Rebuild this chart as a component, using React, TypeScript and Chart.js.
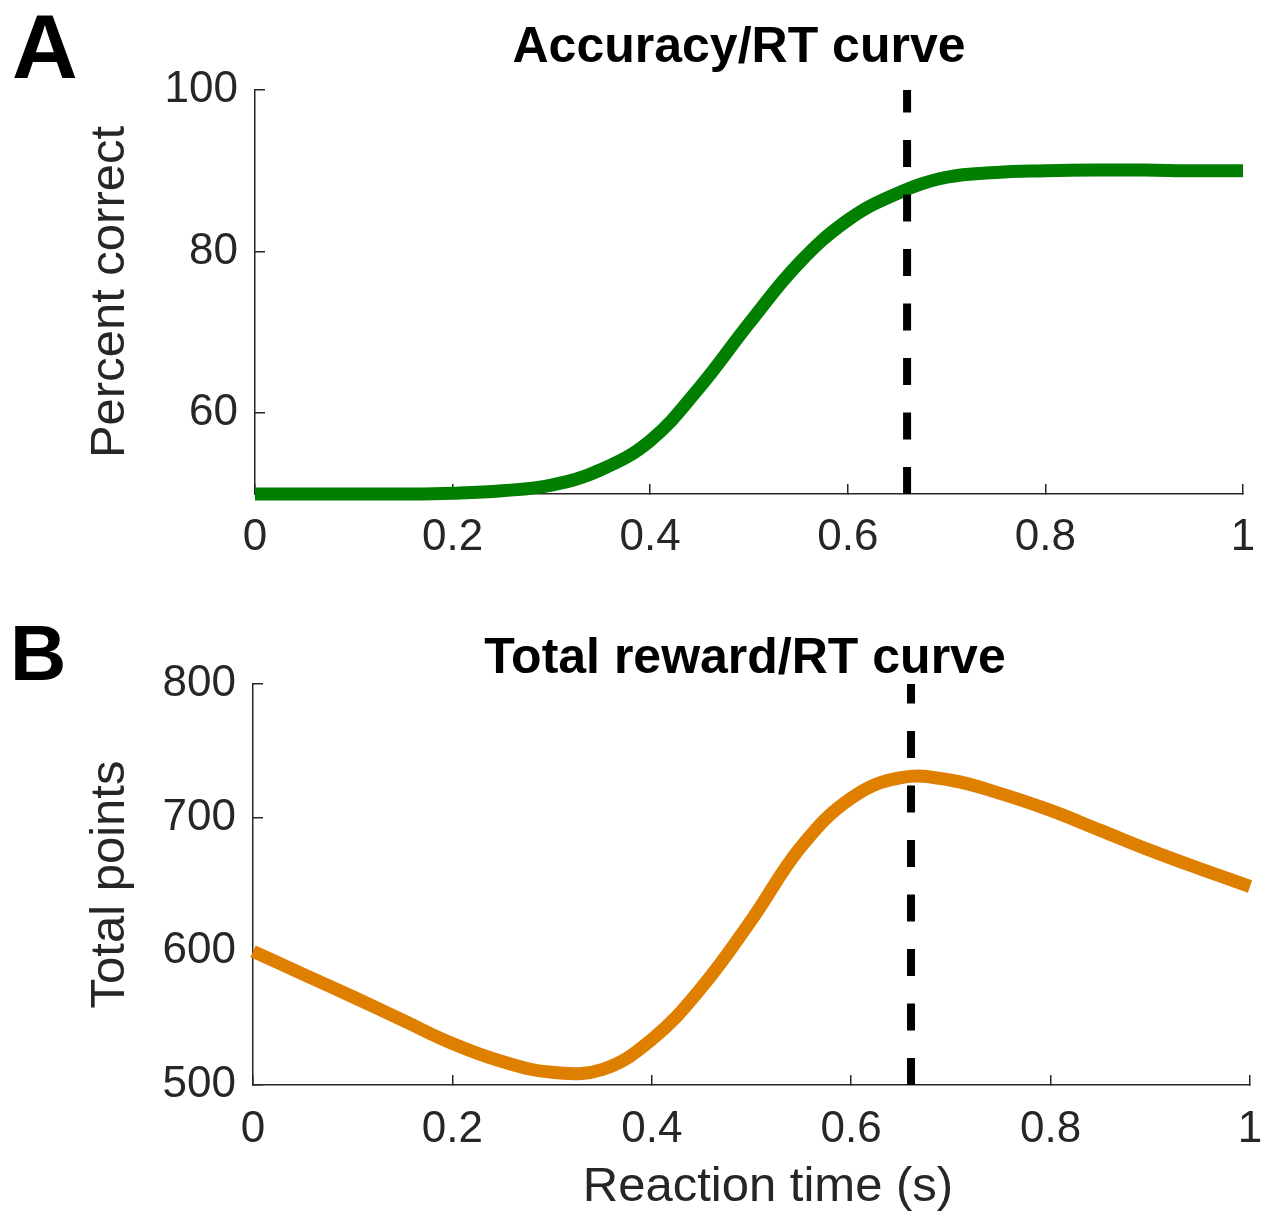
import React, { useEffect, useRef } from "react";
import { Chart, registerables } from "chart.js";

Chart.register(...registerables);

const FONT = "'Liberation Sans', Arial, Helvetica, sans-serif";
const AXIS_COLOR = "#262626";

// ---- Data ----
const RT_A = [0, 0.05, 0.1, 0.15, 0.2, 0.25, 0.3, 0.35, 0.4, 0.45, 0.5, 0.55, 0.6, 0.65, 0.7, 0.75, 0.8, 0.85, 0.9, 0.95, 1];
const PERCENT_CORRECT = [50, 50, 50, 50, 50.1, 50.4, 51.1, 53.0, 56.6, 63.2, 71.1, 78.5, 83.9, 87.2, 89.2, 89.8, 90.0, 90.1, 90.1, 90.0, 90.0];

const RT_B = [0, 0.05, 0.1, 0.15, 0.2, 0.25, 0.3, 0.35, 0.4, 0.45, 0.5, 0.55, 0.6, 0.65, 0.7, 0.75, 0.8, 0.85, 0.9, 0.95, 1];
const TOTAL_POINTS = [600, 583, 566, 548.5, 531, 517.5, 509.5, 511.5, 534, 573, 623.5, 678.5, 714.6, 730, 728, 718, 705.4, 690.5, 675.5, 661.7, 648.5];

const OPTIMAL_RT = 0.66;

const X_TICKS = [0, 0.2, 0.4, 0.6, 0.8, 1];
const X_TICK_LABELS = ["0", "0.2", "0.4", "0.6", "0.8", "1"];
const Y_RANGE_A = [50, 100];
const Y_TICKS_A = [60, 80, 100];
const Y_RANGE_B = [500, 800];
const Y_TICKS_B = [500, 600, 700, 800];

const TITLE_A = "Accuracy/RT curve";
const TITLE_B = "Total reward/RT curve";
const Y_LABEL_A = "Percent correct";
const Y_LABEL_B = "Total points";
const X_LABEL_B = "Reaction time (s)";

const decorPlugin = {
  id: "decor",
  afterDraw(chart: any, _args: any, opts: any) {
    const ctx = chart.ctx;
    ctx.save();
    ctx.fillStyle = "#000";
    ctx.textBaseline = "alphabetic";
    ctx.textAlign = "left";
    ctx.font = `bold ${opts.letterSize}px ${FONT}`;
    ctx.fillText(opts.letter, opts.letterX, opts.letterY);
    ctx.textAlign = "center";
    ctx.font = `bold 50px ${FONT}`;
    ctx.fillText(opts.title, opts.titleX, opts.titleY);
    if (opts.xTitle) {
      ctx.fillStyle = AXIS_COLOR;
      ctx.font = `49px ${FONT}`;
      ctx.fillText(opts.xTitle, opts.xTitleX, opts.xTitleY);
    }
    ctx.restore();
  },
};

function xScale(labelPadding: number, height: number) {
  return {
    type: "linear",
    min: 0,
    max: 1,
    afterBuildTicks: (s: any) => {
      s.ticks = X_TICKS.map((v) => ({ value: v }));
    },
    afterFit: (s: any) => {
      s.height = height;
      s.paddingLeft = 0;
      s.paddingRight = 0;
    },
    ticks: {
      callback: (v: number) => {
        const i = X_TICKS.indexOf(v);
        return i >= 0 ? X_TICK_LABELS[i] : "";
      },
      font: { family: FONT, size: 44 },
      color: AXIS_COLOR,
      padding: labelPadding,
      maxRotation: 0,
      autoSkip: false,
    },
    grid: { drawOnChartArea: false, drawTicks: true, tickLength: -10, color: AXIS_COLOR, lineWidth: 1.5 },
    border: { display: true, color: AXIS_COLOR, width: 1.5 },
  };
}

function yScale(range: number[], ticks: number[], width: number, label: string) {
  return {
    type: "linear",
    min: range[0],
    max: range[1],
    afterBuildTicks: (s: any) => {
      s.ticks = ticks.map((v) => ({ value: v }));
    },
    afterFit: (s: any) => {
      s.width = width;
      s.paddingTop = 0;
      s.paddingBottom = 0;
    },
    ticks: {
      callback: (v: number) => String(v),
      font: { family: FONT, size: 44 },
      color: AXIS_COLOR,
      padding: 27,
    },
    grid: { drawOnChartArea: false, drawTicks: true, tickLength: -10, color: AXIS_COLOR, lineWidth: 1.5 },
    border: { display: true, color: AXIS_COLOR, width: 1.5 },
    title: {
      display: true,
      text: label,
      color: AXIS_COLOR,
      font: { family: FONT, size: 49, weight: "normal" },
      padding: { top: 81, bottom: 0 },
    },
  };
}

function curveDataset(xs: number[], ys: number[], color: string) {
  return {
    data: xs.map((x, i) => ({ x, y: ys[i] })),
    borderColor: color,
    borderWidth: 13,
    pointRadius: 0,
    fill: false,
    tension: 0.4,
    borderCapStyle: "butt",
    borderJoinStyle: "round",
    clip: false,
  };
}

function dashDataset(range: number[]) {
  return {
    data: [
      { x: OPTIMAL_RT, y: range[0] },
      { x: OPTIMAL_RT, y: range[1] },
    ],
    borderColor: "#000",
    borderWidth: 8,
    borderDash: [27, 27.5],
    pointRadius: 0,
    fill: false,
    borderCapStyle: "butt",
    clip: false,
  };
}

export default function App() {
  const refA = useRef<HTMLCanvasElement | null>(null);
  const refB = useRef<HTMLCanvasElement | null>(null);

  useEffect(() => {
    const chartA = new Chart(refA.current as HTMLCanvasElement, {
      type: "line",
      data: {
        datasets: [dashDataset(Y_RANGE_A), curveDataset(RT_A, PERCENT_CORRECT, "#007F00")] as any,
      },
      options: {
        responsive: false,
        animation: false,
        layout: { padding: { top: 90, right: 25, bottom: 0, left: 0 } },
        plugins: {
          legend: { display: false },
          tooltip: { enabled: false },
          decor: {
            letter: "A",
            letterSize: 91,
            letterX: 12,
            letterY: 78,
            title: TITLE_A,
            titleX: 739,
            titleY: 62,
          },
        } as any,
        scales: {
          x: xScale(27, 106),
          y: yScale(Y_RANGE_A, Y_TICKS_A, 255, Y_LABEL_A),
        } as any,
      },
      plugins: [decorPlugin],
    });

    const chartB = new Chart(refB.current as HTMLCanvasElement, {
      type: "line",
      data: {
        datasets: [dashDataset(Y_RANGE_B), curveDataset(RT_B, TOTAL_POINTS, "#DF7F00")] as any,
      },
      options: {
        responsive: false,
        animation: false,
        layout: { padding: { top: 84, right: 18, bottom: 0, left: 0 } },
        plugins: {
          legend: { display: false },
          tooltip: { enabled: false },
          decor: {
            letter: "B",
            letterSize: 78,
            letterX: 10,
            letterY: 80,
            title: TITLE_B,
            titleX: 745,
            titleY: 73,
            xTitle: X_LABEL_B,
            xTitleX: 768,
            xTitleY: 601,
          },
        } as any,
        scales: {
          x: xScale(28, 132),
          y: yScale(Y_RANGE_B, Y_TICKS_B, 253, Y_LABEL_B),
        } as any,
      },
      plugins: [decorPlugin],
    });

    return () => {
      chartA.destroy();
      chartB.destroy();
    };
  }, []);

  return (
    <div style={{ position: "absolute", left: 0, top: 0, width: 1268, height: 1217, background: "#fff" }}>
      <canvas ref={refA} width={1268} height={600} style={{ position: "absolute", left: 0, top: 0, display: "block" }} />
      <canvas ref={refB} width={1268} height={617} style={{ position: "absolute", left: 0, top: 600, display: "block" }} />
    </div>
  );
}
